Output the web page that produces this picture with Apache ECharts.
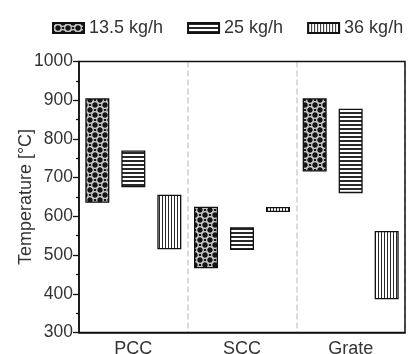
<!DOCTYPE html>
<html>
<head>
<meta charset="utf-8">
<script src="https://cdn.jsdelivr.net/npm/echarts@6/dist/echarts.min.js"></script>
<style>
  html, body { margin: 0; padding: 0; background: #fff; }
  #chart { width: 409px; height: 354px; }
</style>
</head>
<body>
<div id="chart"></div>
<script>
// Combustion zones and feed rates
const categories = ['PCC', 'SCC', 'Grate'];
const seriesNames = ['13.5 kg/h', '25 kg/h', '36 kg/h'];

// Temperature ranges [°C] per zone: lower and upper bound
const low135 = [635, 466, 716];
const high135 = [905, 625, 905];
const low25 = [675, 513, 660];
const high25 = [770, 572, 878];
const low36 = [515, 611, 386];
const high36 = [656, 624, 562];

const yTicks = [300, 400, 500, 600, 700, 800, 900, 1000];

// Fill patterns drawn on small tiles
function tile(w, h, draw) {
  const c = document.createElement('canvas');
  c.width = w; c.height = h;
  draw(c.getContext('2d'), w, h);
  return { image: c, repeat: 'repeat' };
}
const ringPattern = tile(10, 10, (ctx, w, h) => {
  ctx.fillStyle = '#151515';
  ctx.fillRect(0, 0, w, h);
  ctx.strokeStyle = '#cfcfcf';
  ctx.lineWidth = 1.2;
  [[5, 5], [0, 0], [10, 0], [0, 10], [10, 10]].forEach(([x, y]) => {
    ctx.beginPath();
    ctx.arc(x, y, 3.3, 0, Math.PI * 2);
    ctx.stroke();
  });
});
const hLinePattern = tile(4, 4, (ctx, w, h) => {
  ctx.fillStyle = '#ffffff';
  ctx.fillRect(0, 0, w, h);
  ctx.fillStyle = '#2a2a2a';
  ctx.fillRect(0, 0, w, 2);
});
const vLinePattern = tile(3, 3, (ctx, w, h) => {
  ctx.fillStyle = '#ffffff';
  ctx.fillRect(0, 0, w, h);
  ctx.fillStyle = '#2a2a2a';
  ctx.fillRect(0, 0, 1, h);
});

const groups = [
  { name: seriesNames[0], low: low135, high: high135, fill: ringPattern, stack: 's135' },
  { name: seriesNames[1], low: low25, high: high25, fill: hLinePattern, stack: 's25' },
  { name: seriesNames[2], low: low36, high: high36, fill: vLinePattern, stack: 's36' }
];

const series = [];
groups.forEach(g => {
  // invisible offset up to the lower bound
  series.push({
    type: 'bar',
    name: g.name + ' base',
    stack: g.stack,
    barWidth: 24,
    barGap: '50%',
    silent: true,
    itemStyle: { color: 'transparent' },
    emphasis: { disabled: true },
    data: g.low
  });
  // visible range from lower to upper bound
  series.push({
    type: 'bar',
    name: g.name,
    stack: g.stack,
    barWidth: 24,
    barGap: '50%',
    itemStyle: { color: g.fill, borderColor: '#111', borderWidth: 1.3 },
    emphasis: { disabled: true },
    data: g.high.map((v, i) => v - g.low[i])
  });
});

const chart = echarts.init(document.getElementById('chart'), null, { renderer: 'canvas' });
chart.setOption({
  backgroundColor: '#fff',
  animation: false,
  textStyle: { fontFamily: 'Liberation Sans, Arial, sans-serif' },
  legend: {
    data: seriesNames.map(n => ({ name: n, icon: 'rect' })),
    left: 52,
    top: 19,
    width: 360,
    padding: 0,
    itemWidth: 31,
    itemHeight: 10,
    itemGap: 24,
    textStyle: { fontSize: 18, color: '#333' }
  },
  grid: {
    left: 79, right: 4, top: 61.5, bottom: 21.5,
    outerBoundsMode: 'none',
    show: true, borderColor: '#111', borderWidth: 1.5, z: 5
  },
  xAxis: {
    type: 'category',
    data: categories,
    axisLine: { lineStyle: { color: '#111', width: 1.5 } },
    axisTick: { show: false },
    axisLabel: { fontSize: 18, color: '#333', margin: 8 },
    splitLine: { show: true, lineStyle: { color: '#cfcfcf', type: 'dashed', width: 1.5 } }
  },
  yAxis: {
    type: 'value',
    min: yTicks[0],
    max: yTicks[yTicks.length - 1],
    interval: 100,
    name: 'Temperature [°C]',
    nameLocation: 'middle',
    nameGap: 44,
    nameMoveOverlap: false,
    nameTextStyle: { fontSize: 18, color: '#333' },
    axisLine: { show: true, lineStyle: { color: '#111', width: 1.5 } },
    axisTick: { show: true, length: 6, lineStyle: { color: '#111', width: 1.3 } },
    minorTick: { show: true, splitNumber: 2, length: 3, lineStyle: { color: '#111', width: 1.3 } },
    axisLabel: { fontSize: 17.5, color: '#333', margin: 6, formatter: v => String(v) },
    splitLine: { show: false }
  },
  series: series
});
</script>
</body>
</html>
